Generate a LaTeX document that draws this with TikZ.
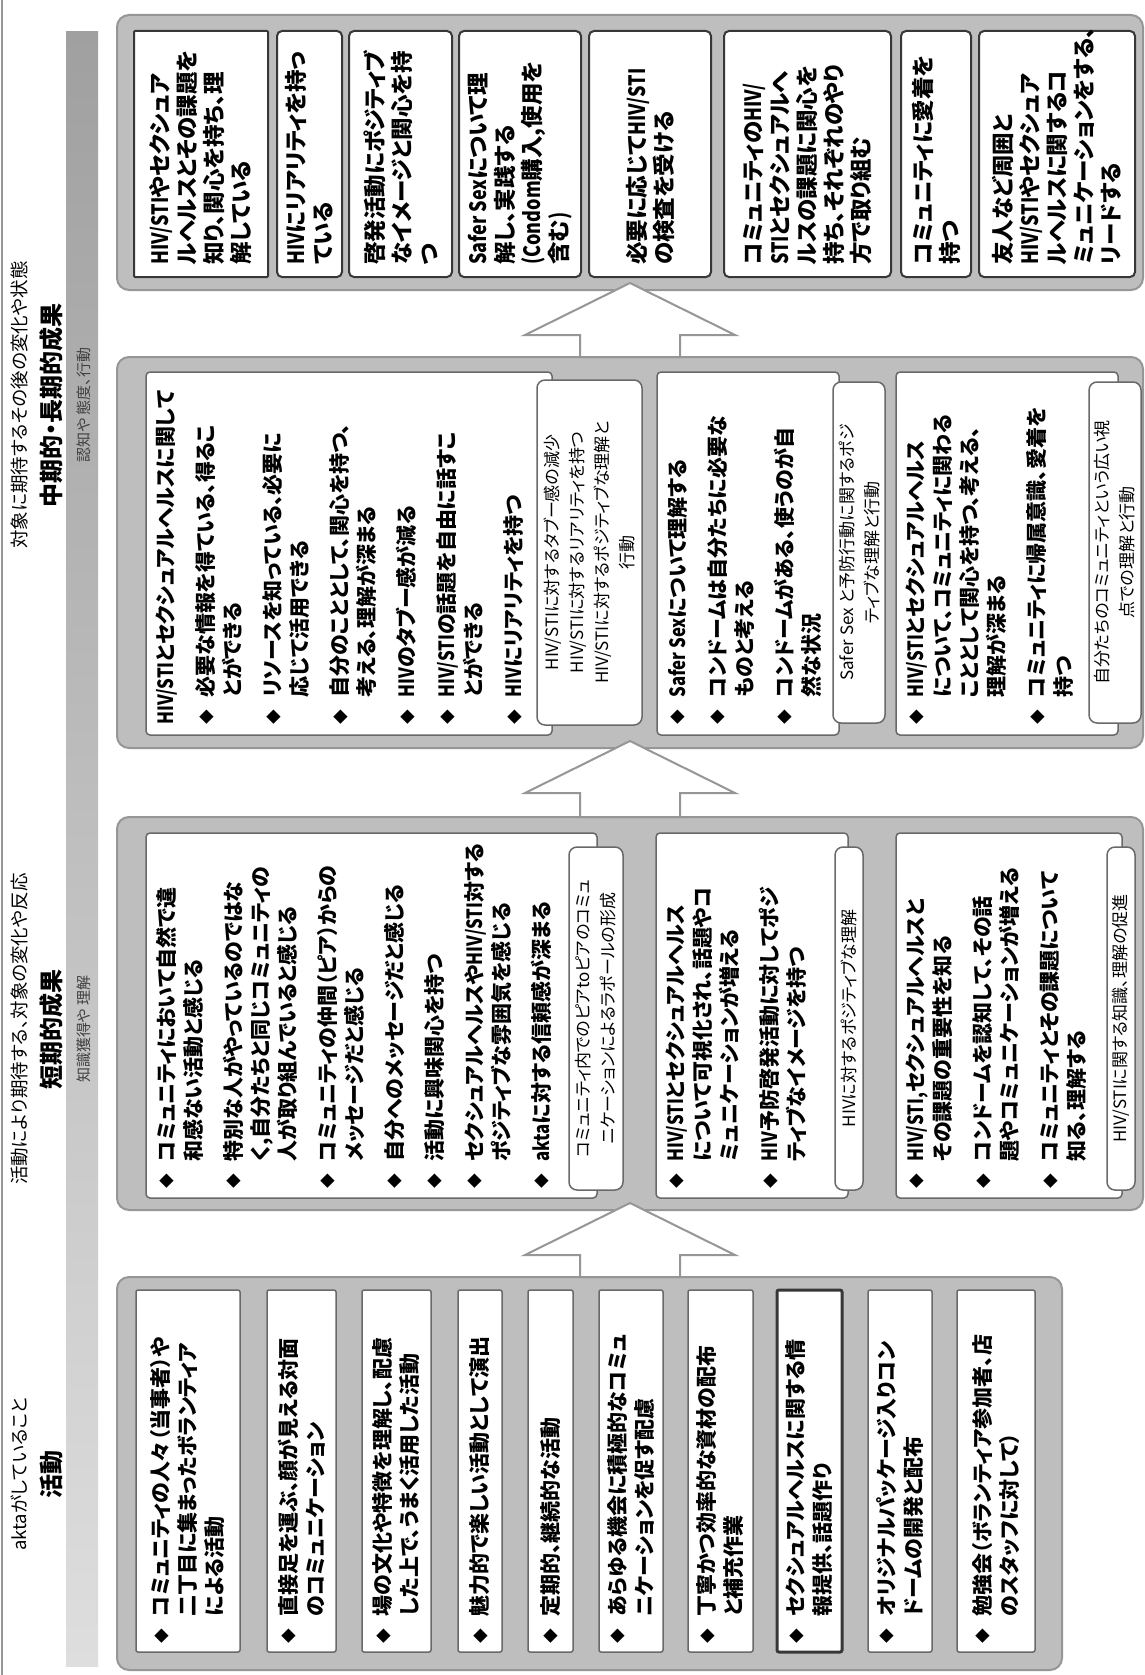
\documentclass[tikz,border=0pt]{standalone}
\usepackage{fontspec}
\setmainfont{Noto Sans CJK JP}[RawFeature=+palt]
\usetikzlibrary{calc}

\definecolor{fillgray}{RGB}{190,190,190}
\definecolor{edgegray}{RGB}{150,150,150}
\definecolor{linegray}{RGB}{105,105,105}
\definecolor{darkline}{RGB}{55,55,55}
\definecolor{striptop}{RGB}{160,160,160}
\definecolor{stripbot}{RGB}{222,222,222}

% bullet, hanging indent, narrow latin
\newcommand{\bl}{\makebox[1.3em][l]{\raisebox{0.08em}{\scalebox{0.7}{◆}}}}
\newcommand{\ind}{\hspace*{1.3em}}
\newcommand{\lat}[1]{\scalebox{0.8}[1]{#1}}
% box node from its corners (image pixels, y down)
\newcommand{\boxnode}[6]{\node[#2, minimum width=#5-#3, minimum height=#6-#4, anchor=north west] (#1) at (#3,#4) {};}
% hollow block arrow from lower box #1 to upper box #2
\newcommand{\blockarrow}[2]{%
  \draw[hollow] let \p1=(#2.south), \p2=(#1.north) in
    (\x1-50pt,\y2) -- (\x1-50pt,\y1-45pt) -- (\x1-105pt,\y1-45pt) -- (\x1,\y1+7pt)
    -- (\x1+105pt,\y1-45pt) -- (\x1+50pt,\y1-45pt) -- (\x1+50pt,\y2) -- cycle;}

\begin{document}
\begin{tikzpicture}[x=1pt,y=-1pt]
        \tikzstyle{outer} = [draw=edgegray, line width=2pt, fill=fillgray, rounded corners=12pt, inner sep=0pt, outer sep=0pt]
        \tikzstyle{panel} = [draw=linegray, line width=1.5pt, fill=white, rounded corners=4pt, inner sep=0pt, outer sep=0pt]
        \tikzstyle{goal} = [draw=darkline, line width=2pt, fill=white, rounded corners=5pt, inner sep=0pt, outer sep=0pt]
        \tikzstyle{callout} = [draw=linegray, line width=1.5pt, fill=white, rounded corners=8pt, inner sep=0pt, outer sep=0pt]
        \tikzstyle{hollow} = [draw=edgegray, line width=2pt, fill=white]
        \tikzstyle{txt} = [rotate=90, align=left, inner sep=0pt, font=\bfseries\fontsize{21}{27}\selectfont]
        \tikzstyle{longtxt} = [txt, font=\bfseries\fontsize{22.5}{27}\selectfont]
        \tikzstyle{note} = [rotate=90, align=center, inner sep=0pt, font=\fontsize{17}{25}\selectfont]
        \tikzstyle{headcap} = [rotate=90, inner sep=0pt, font=\fontsize{18.5}{18.5}\selectfont]
        \tikzstyle{headttl} = [rotate=90, inner sep=0pt, font=\bfseries\fontsize{24}{24}\selectfont]
        \tikzstyle{headlbl} = [rotate=90, inner sep=0pt, text=black!75, font=\fontsize{15}{15}\selectfont]

		\useasboundingbox (0,0) rectangle (1145,1675);
		\fill[white] (0,0) rectangle (1145,1675);
		\draw[edgegray, line width=1.5pt] (2,0) -- (2,1675);

		% header strip
		\shade[top color=striptop, bottom color=stripbot] (66,32) rectangle (98,1666);
		\node[headcap] (capmid) at (19,405) {対象に期待するその後の変化や状態};
		\node[headttl] (ttlmid) at (51,405) {中期的・長期的成果};
		\node[headlbl] (lblmid) at (84,405) {認知や 態度、行動};
		\node[headcap] (capshort) at (19,1029) {活動により期待する、対象の変化や反応};
		\node[headttl] (ttlshort) at (51,1029) {短期的成果};
		\node[headlbl] (lblshort) at (84,1029) {知識獲得や 理解};
		\node[headcap] (capact) at (19,1474) {aktaがしていること};
		\node[headttl] (ttlact) at (51,1474) {活動};

		% grey frames
		\boxnode{long}{outer}{117}{15}{1143}{290}
		\boxnode{mid}{outer}{117}{357}{1143}{748}
		\boxnode{short}{outer}{117}{817}{1143}{1210}
		\boxnode{act}{outer}{117}{1277}{1062}{1670}

		\blockarrow{act}{short}
		\blockarrow{short}{mid}
		\blockarrow{mid}{long}

		% long-term outcomes
		\boxnode{l1}{goal, rounded corners=1pt}{134}{31}{268}{277}
		\boxnode{l2}{goal}{277}{31}{342}{277}
		\boxnode{l3}{goal}{349}{31}{452}{277}
		\boxnode{l4}{goal}{459}{31}{581}{277}
		\boxnode{l5}{goal}{589}{31}{711}{277}
		\boxnode{l6}{goal}{724}{31}{891}{277}
		\boxnode{l7}{goal}{901}{31}{971}{277}
		\boxnode{l8}{goal}{979}{31}{1135}{277}
		\node[longtxt, anchor=west] (tl1) at ($(l1.south)+(0,-12)$) {\lat{HIV/STI}やセクシュア\\ルヘルスとその課題を\\知り、関心を持ち、理\\解している};
		\node[longtxt, anchor=west] (tl2) at ($(l2.south)+(0,-12)$) {\lat{HIV}にリアリティを持っ\\ている};
		\node[longtxt, anchor=west] (tl3) at ($(l3.south)+(0,-12)$) {啓発活動にポジティブ\\なイメージと関心を持\\つ};
		\node[longtxt, anchor=west] (tl4) at ($(l4.south)+(0,-12)$) {\lat{Safer Sex}について理\\解し、実践する\\\lat{(Condom}購入,使用を\\含む\lat{)}};
		\node[longtxt, anchor=west] (tl5) at ($(l5.south)+(0,-12)$) {必要に応じて\lat{HIV/STI}\\の検査を受ける};
		\node[longtxt, anchor=west] (tl6) at ($(l6.south)+(0,-12)$) {コミュニティの\lat{HIV/}\\\lat{STI}とセクシュアルへ\\ルスの課題に関心を\\持ち、それぞれのやり\\方で取り組む};
		\node[longtxt, anchor=west] (tl7) at ($(l7.south)+(0,-12)$) {コミュニティに愛着を\\持つ};
		\node[longtxt, anchor=west] (tl8) at ($(l8.south)+(0,-12)$) {友人など周囲と\\\lat{HIV/STI}やセクシュア\\ルヘルスに関するコ\\ミュニケーションをする、\\リードする};

		% mid-term outcomes
		\boxnode{ma}{panel}{146}{372}{552}{735}
		\boxnode{mac}{callout}{537}{380}{642}{725}
		\boxnode{mb}{panel}{657}{372}{839}{735}
		\boxnode{mbc}{callout}{833}{382}{885}{723}
		\boxnode{mc}{panel}{896}{372}{1118}{735}
		\boxnode{mcc}{callout}{1089}{382}{1141}{723}
		\node[txt, anchor=north west] (tma) at ($(ma.south west)+(10,-10)$) {\lat{HIV/STI}とセクシュアルヘルスに関して\\[13pt]
			\bl 必要な情報を得ている、得るこ\\ \ind とができる\\[13pt]
			\bl リソースを知っている、必要に\\ \ind 応じて活用できる\\[13pt]
			\bl 自分のこととして、関心を持つ、\\ \ind 考える、理解が深まる\\[13pt]
			\bl \lat{HIV}のタブー感が減る\\[13pt]
			\bl \lat{HIV/STI}の話題を自由に話すこ\\ \ind とができる\\[13pt]
			\bl \lat{HIV}にリアリティを持つ};
		\node[note] (tmac) at (mac) {HIV/STIに対するタブー感の減少\\HIV/STIに対するリアリティを持つ\\HIV/STIに対するポジティブな理解と\\行動};
		\node[txt, anchor=north west] (tmb) at ($(mb.south west)+(10,-10)$) {\bl \lat{Safer Sex}について理解する\\[13pt]
			\bl コンドームは自分たちに必要な\\ \ind ものと考える\\[13pt]
			\bl コンドームがある、使うのが自\\ \ind 然な状況};
		\node[note] (tmbc) at (mbc) {Safer Sex と予防行動に関するポジ\\ティブな理解と行動};
		\node[txt, anchor=north west] (tmc) at ($(mc.south west)+(10,-10)$) {\bl \lat{HIV/STI}とセクシュアルヘルス\\ \ind について、コミュニティに関わる\\ \ind こととして関心を持つ、考える、\\ \ind 理解が深まる\\[13pt]
			\bl コミュニティに帰属意識、愛着を\\ \ind 持つ};
		\node[note] (tmcc) at (mcc) {自分たちのコミュニティという広い視\\点での理解と行動};

		% short-term outcomes
		\boxnode{sa}{panel}{146}{833}{597}{1198}
		\boxnode{sac}{callout}{569}{847}{623}{1190}
		\boxnode{sb}{panel}{656}{833}{848}{1198}
		\boxnode{sbc}{callout}{835}{847}{863}{1190}
		\boxnode{sc}{panel}{896}{833}{1122}{1198}
		\boxnode{scc}{callout}{1107}{847}{1135}{1190}
		\node[txt, anchor=north west] (tsa) at ($(sa.south west)+(10,-9)$) {\bl コミュニティにおいて自然で違\\ \ind 和感ない活動と感じる\\[13pt]
			\bl 特別な人がやっているのではな\\ \ind く,自分たちと同じコミュニティの\\ \ind 人が取り組んでいると感じる\\[13pt]
			\bl コミュニティの仲間（ピア）からの\\ \ind メッセージだと感じる\\[13pt]
			\bl 自分へのメッセージだと感じる\\[13pt]
			\bl 活動に興味関心を持つ\\[13pt]
			\bl セクシュアルヘルスや\lat{HIV/STI}対する\\ \ind ポジティブな雰囲気を感じる\\[13pt]
			\bl \lat{akta}に対する信頼感が深まる};
		\node[note] (tsac) at (sac) {コミュニティ内でのピアtoピアのコミュ\\ニケーションによるラポールの形成};
		\node[txt, anchor=north west] (tsb) at ($(sb.south west)+(10,-9)$) {\bl \lat{HIV/STI}とセクシュアルヘルス\\ \ind について可視化され、話題やコ\\ \ind ミュニケーションが増える\\[13pt]
			\bl \lat{HIV}予防啓発活動に対してポジ\\ \ind ティブなイメージを持つ};
		\node[note] (tsbc) at (sbc) {HIVに対するポジティブな理解};
		\node[txt, anchor=north west] (tsc) at ($(sc.south west)+(10,-9)$) {\bl \lat{HIV/STI,}セクシュアルヘルスと\\ \ind その課題の重要性を知る\\[13pt]
			\bl コンドームを認知して、その話\\ \ind 題やコミュニケーションが増える\\[13pt]
			\bl コミュニティとその課題について\\ \ind 知る、理解する};
		\node[note] (tscc) at (scc) {HIV/STIに関する知識、理解の促進};

		% activities
		\boxnode{a1}{panel, rounded corners=2pt}{136}{1290}{240}{1652}
		\boxnode{a2}{panel, rounded corners=2pt}{267}{1290}{336}{1652}
		\boxnode{a3}{panel, rounded corners=2pt}{362}{1290}{431}{1652}
		\boxnode{a4}{panel, rounded corners=2pt}{458}{1290}{502}{1652}
		\boxnode{a5}{panel, rounded corners=2pt}{528}{1290}{573}{1652}
		\boxnode{a6}{panel, rounded corners=2pt}{599}{1290}{663}{1652}
		\boxnode{a7}{panel, rounded corners=2pt}{688}{1290}{753}{1652}
		\boxnode{a8}{panel, rounded corners=2pt, draw=darkline, line width=3pt}{777}{1290}{842}{1652}
		\boxnode{a9}{panel, rounded corners=2pt}{868}{1290}{932}{1652}
		\boxnode{a10}{panel, rounded corners=2pt}{957}{1290}{1035}{1652}
		\node[txt, anchor=west] (ta1) at ($(a1.south)+(0,-8)$) {\bl コミュニティの人々（当事者）や\\ \ind 二丁目に集まったボランティア\\ \ind による活動};
		\node[txt, anchor=west] (ta2) at ($(a2.south)+(0,-8)$) {\bl 直接足を運ぶ、顔が見える対面\\ \ind のコミュニケーション};
		\node[txt, anchor=west] (ta3) at ($(a3.south)+(0,-8)$) {\bl 場の文化や特徴を理解し、配慮\\ \ind した上で、うまく活用した活動};
		\node[txt, anchor=west] (ta4) at ($(a4.south)+(0,-8)$) {\bl 魅力的で楽しい活動として演出};
		\node[txt, anchor=west] (ta5) at ($(a5.south)+(0,-8)$) {\bl 定期的、継続的な活動};
		\node[txt, anchor=west] (ta6) at ($(a6.south)+(0,-8)$) {\bl あらゆる機会に積極的なコミュ\\ \ind ニケーションを促す配慮};
		\node[txt, anchor=west] (ta7) at ($(a7.south)+(0,-8)$) {\bl 丁寧かつ効率的な資材の配布\\ \ind と補充作業};
		\node[txt, anchor=west] (ta8) at ($(a8.south)+(0,-8)$) {\bl セクシュアルヘルスに関する情\\ \ind 報提供、話題作り};
		\node[txt, anchor=west] (ta9) at ($(a9.south)+(0,-8)$) {\bl オリジナルパッケージ入りコン\\ \ind ドームの開発と配布};
		\node[txt, anchor=west] (ta10) at ($(a10.south)+(0,-8)$) {\bl 勉強会（ボランティア参加者、店\\ \ind のスタッフに対して）};

    \end{tikzpicture}
\end{document}
